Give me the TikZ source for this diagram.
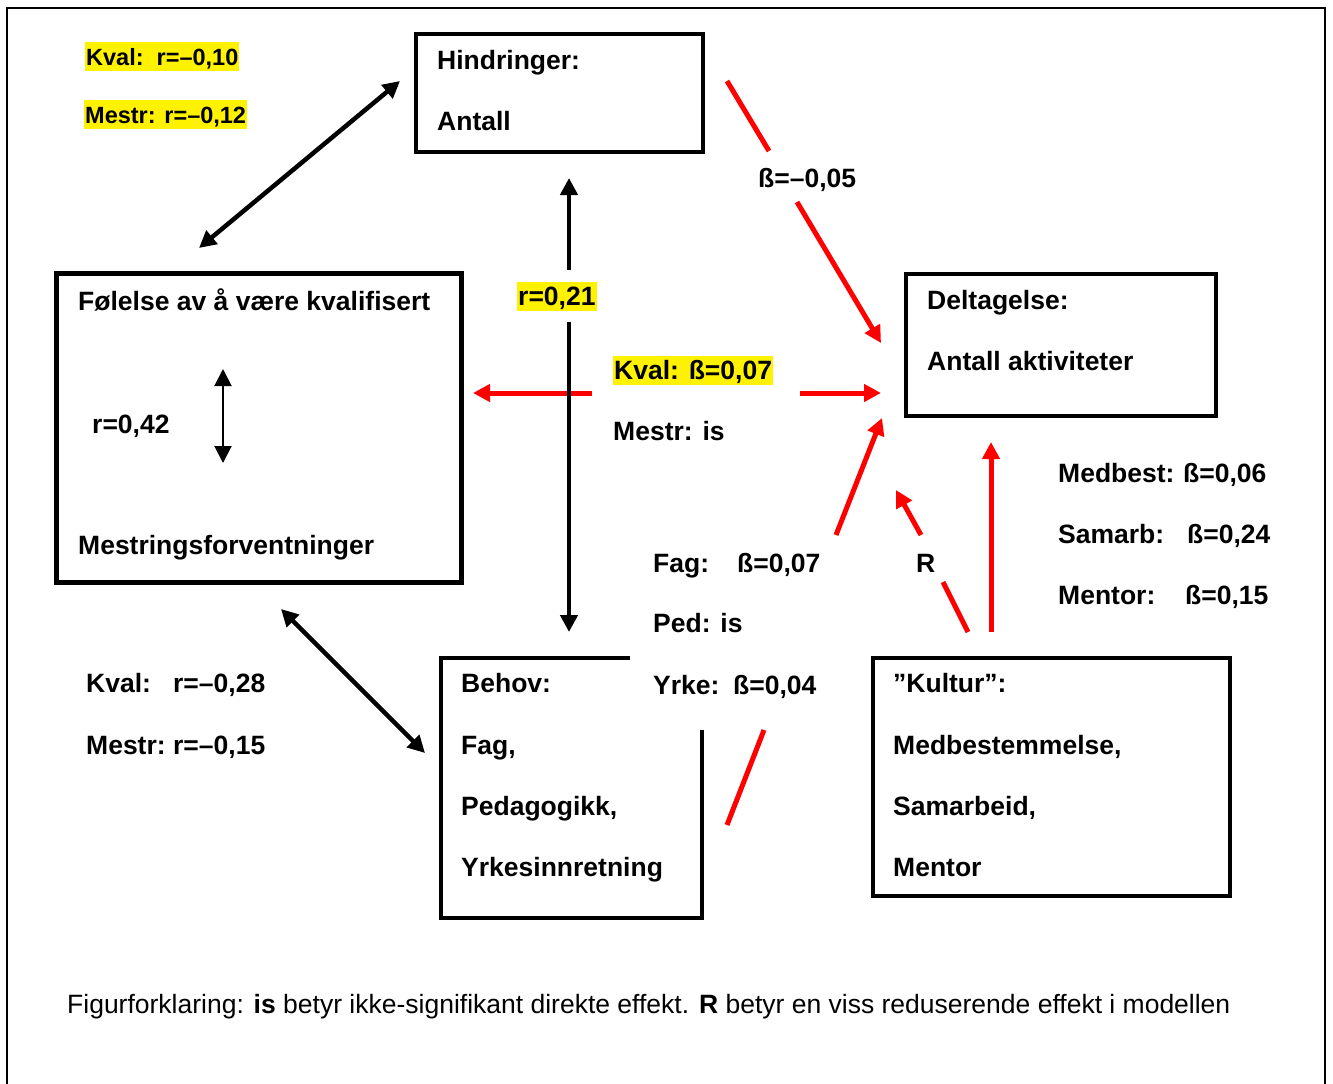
\documentclass[tikz,border=0pt]{standalone}
\usepackage{fontspec}
\setmainfont{Liberation Sans}
\usetikzlibrary{arrows.meta}
\begin{document}
\begin{tikzpicture}[x=1pt,y=-1pt,
  every node/.style={inner sep=0pt, anchor=base west, font=\fontsize{26.5}{31}\selectfont\bfseries},
  hl/.style={fill=yellow, inner xsep=1pt, text height=23pt, text depth=6pt},
  small/.style={font=\fontsize{23.5}{28}\selectfont\bfseries},
  caption/.style={font=\fontsize{26.5}{31}\selectfont},
  box/.style={draw, anchor=center, line width=3.5pt},
  >={Triangle[length=17pt,width=17pt]},
  blk/.style={line width=4.5pt, black},
  red/.style={line width=5pt, draw={rgb,255:red,255;green,0;blue,0}},
  thinarr/.style={line width=2pt, black}
]
\useasboundingbox (0,0) rectangle (1333,1084);
% outer frame
\draw[line width=2pt] (7,1084) -- (7,8) -- (1325,8) -- (1325,1084);

% boxes
\node[box, minimum width=287pt, minimum height=118pt] (hind) at (559.5,93) {};
\node[box, line width=5pt, minimum width=405pt, minimum height=309pt] (fol) at (259,428) {};
\node[box, minimum width=310pt, minimum height=142pt] (delt) at (1061,345) {};
\node[box, line width=4pt, minimum width=357pt, minimum height=238pt] (kult) at (1051.5,777) {};
\coordinate (beh1) at (630,658);
\coordinate (beh2) at (702,730);
\draw[line width=3.5pt] (beh1) -- (441,658) -- (441,918) -- (702,918) -- (beh2);

% box texts
\node (h1) at (437,69) {Hindringer:};
\node (h2) at (437,130) {Antall};
\node (f1) at (78,310) {Følelse av å være kvalifisert};
\node (f2) at (92,433) {r=0,42};
\node (f3) at (78,554) {Mestringsforventninger};
\node (d1) at (927,309) {Deltagelse:};
\node (d2) at (927,370) {Antall aktiviteter};
\node (b1) at (461,692) {Behov:};
\node (b2) at (461,754) {Fag,};
\node (b3) at (461,815) {Pedagogikk,};
\node (b4) at (461,876) {Yrkesinnretning};
\node (k1) at (893,692) {”Kultur”:};
\node (k2) at (893,754) {Medbestemmelse,};
\node (k3) at (893,815) {Samarbeid,};
\node (k4) at (893,876) {Mentor};

% labels
\node[hl, small] (lkv) at (85,65) {Kval:\hspace{13pt}r=–0,10};
\node[hl, small] (lme) at (84,123) {Mestr: r=–0,12};
\node[hl] (l21) at (517,305) {r=0,21};
\node[hl] (lkb) at (613,379) {Kval: ß=0,07};
\node (lmi) at (613,440) {Mestr: is};
\node (l05) at (758,187) {ß=–0,05};
\node (lfag) at (653,572) {\makebox[84pt][l]{Fag:}ß=0,07};
\node (lped) at (653,632) {Ped: is};
\node (lyrk) at (653,694) {\makebox[80pt][l]{Yrke:}ß=0,04};
\node (lR) at (916,572) {R};
\node (lmb) at (1058,482) {\makebox[125pt][l]{Medbest:}ß=0,06};
\node (lsa) at (1058,543) {\makebox[129pt][l]{Samarb:}ß=0,24};
\node (lmt) at (1058,604) {\makebox[127pt][l]{Mentor:}ß=0,15};
\node (lk28) at (86,692) {\makebox[87pt][l]{Kval:}r=–0,28};
\node (lm15) at (86,754) {\makebox[87pt][l]{Mestr:}r=–0,15};
\node[caption] (cap) at (67,1013) {Figurforklaring: \textbf{is} betyr ikke-signifikant direkte effekt. \textbf{R} betyr en viss reduserende effekt i modellen};

% connector end points
\coordinate (rh1) at (727,81);
\coordinate (rh2) at (769,151);
\coordinate (rh3) at (797,202);
\coordinate (rh4) at (881,343);
\coordinate (rk1) at (592,393);
\coordinate (rk2) at (473,393);
\coordinate (rk3) at (800,393);
\coordinate (rk4) at (881,393);
\coordinate (rf1) at (727,825);
\coordinate (rf2) at (764,730);
\coordinate (rf3) at (836,535);
\coordinate (rf4) at (882,418);
\coordinate (rr1) at (968,632);
\coordinate (rr2) at (943,582);
\coordinate (rr3) at (921,535);
\coordinate (rr4) at (896,490);
\coordinate (rv1) at (991,632);
\coordinate (rv2) at (991,442);
\coordinate (bd1) at (400,81);
\coordinate (bd2) at (199,248);
\coordinate (bv1) at (569,178);
\coordinate (bv2) at (569,270);
\coordinate (bv3) at (569,322);
\coordinate (bv4) at (569,632);
\coordinate (bl1) at (281,609);
\coordinate (bl2) at (425,753);
\coordinate (sa1) at (223,369);
\coordinate (sa2) at (223,463);

% red connectors
\draw[red] (rh1) -- (rh2);
\draw[red, ->] (rh3) -- (rh4);
\draw[red, ->] (rk1) -- (rk2);
\draw[red, ->] (rk3) -- (rk4);
\draw[red] (rf1) -- (rf2);
\draw[red, ->] (rf3) -- (rf4);
\draw[red] (rr1) -- (rr2);
\draw[red, ->] (rr3) -- (rr4);
\draw[red, ->] (rv1) -- (rv2);

% black connectors
\draw[blk, <->] (bd1) -- (bd2);
\draw[blk, ->] (bv2) -- (bv1);
\draw[blk, ->] (bv3) -- (bv4);
\draw[blk, <->] (bl1) -- (bl2);
\draw[thinarr, <->] (sa1) -- (sa2);
\end{tikzpicture}
\end{document}
